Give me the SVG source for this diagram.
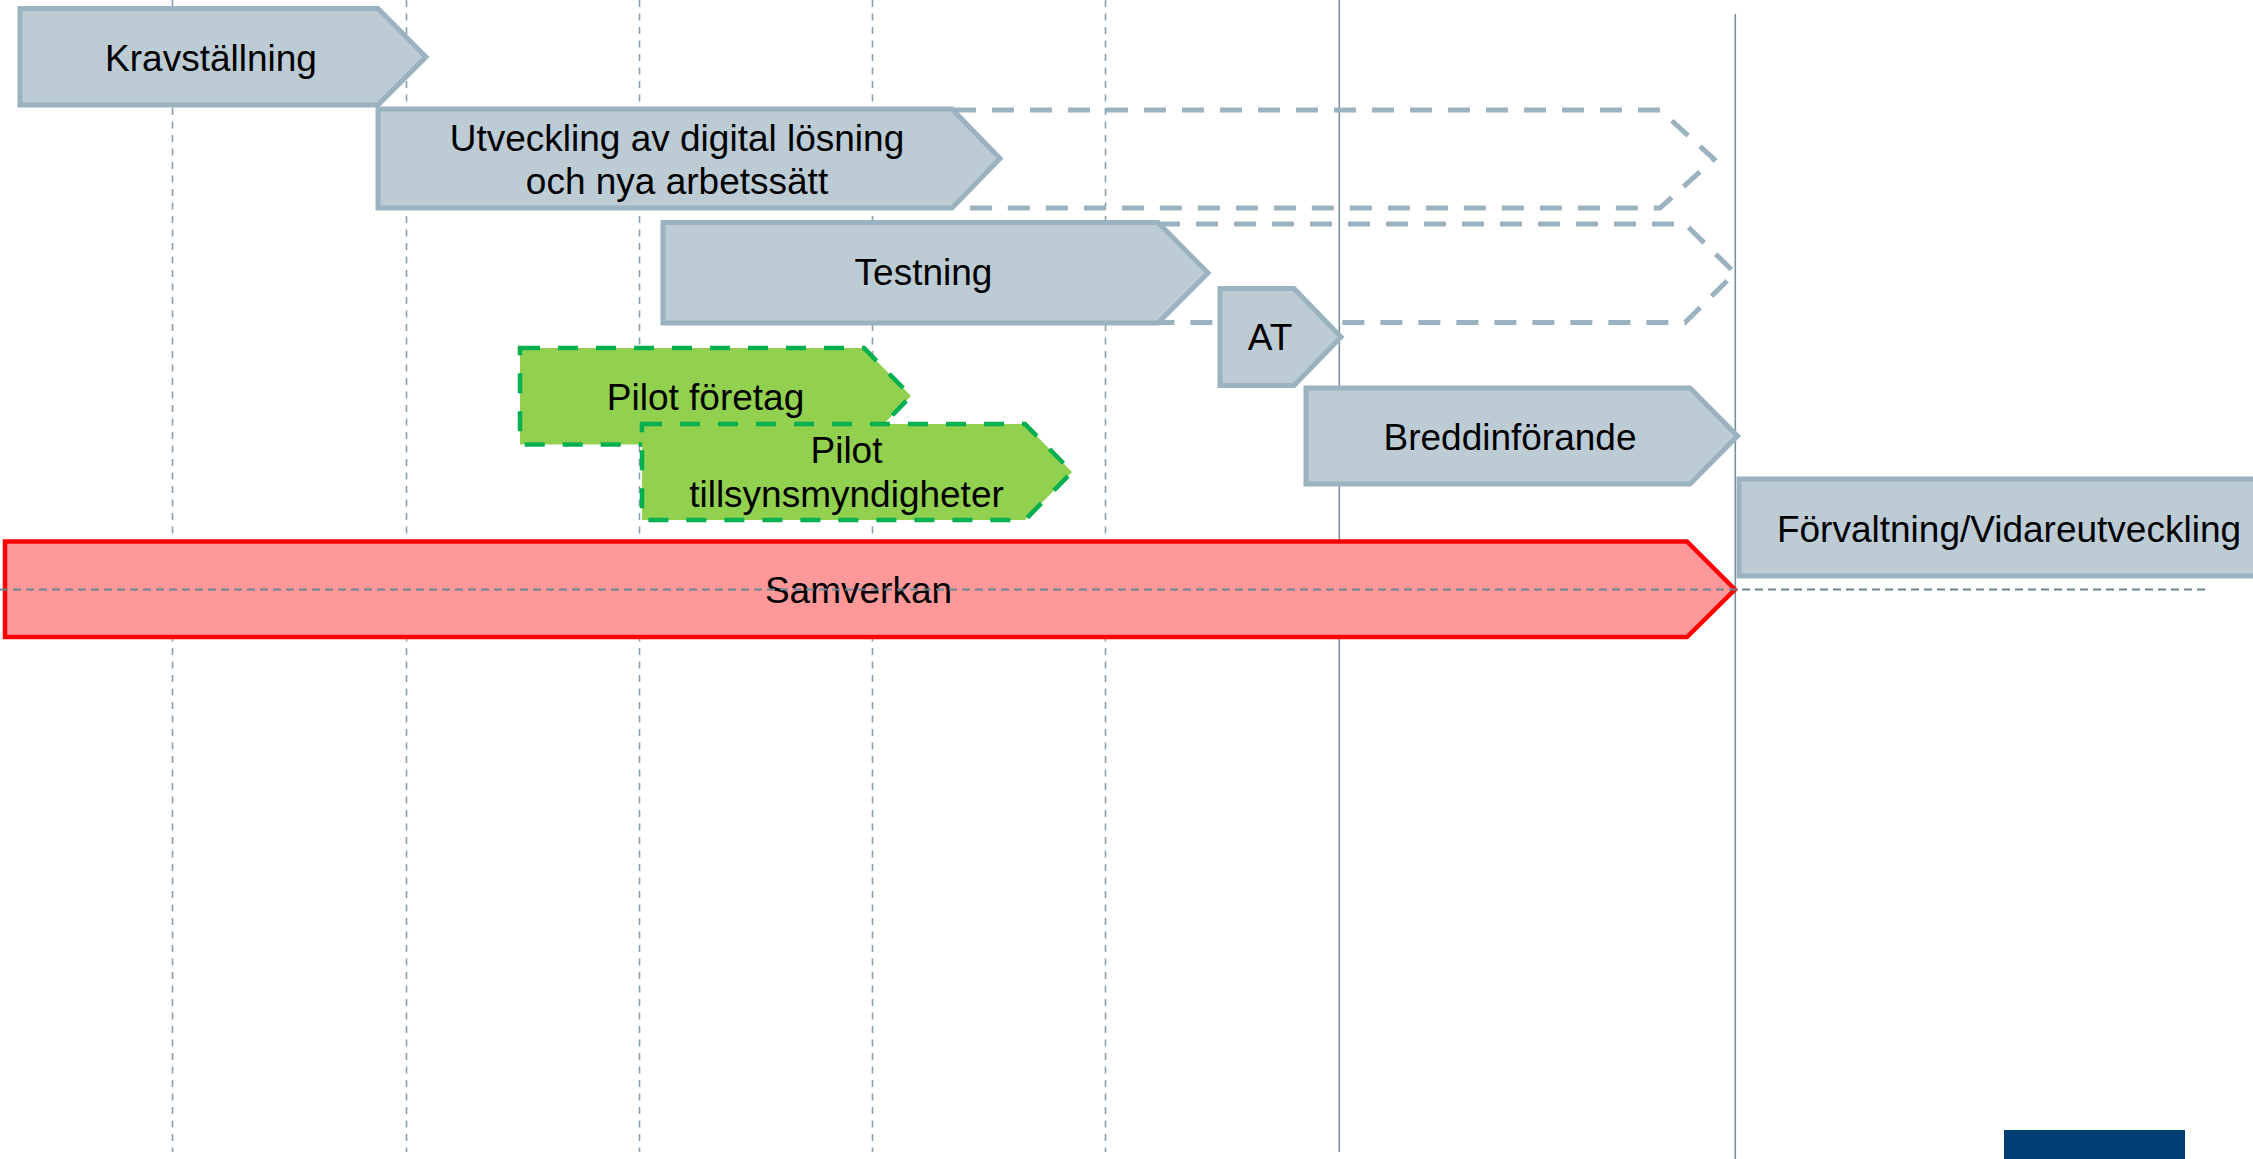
<svg xmlns="http://www.w3.org/2000/svg" width="2253" height="1159" viewBox="0 0 2253 1159">
<style>
.vdash{stroke:#8ba0ae;stroke-width:1.6;stroke-dasharray:7 6.5;fill:none}
.vsolid{stroke:#7890a0;stroke-width:1.6;fill:none}
.hdash{stroke:#6a8494;stroke-width:2;stroke-dasharray:8 5;fill:none}
.ghost{fill:none;stroke:#9bb2c0;stroke-width:5;stroke-dasharray:22 16}
.box{fill:#bccbd4;stroke:#9bb2c0;stroke-width:5;stroke-linejoin:miter}
.green{fill:#92d050;stroke:#00b050;stroke-width:4.5;stroke-dasharray:20 18}
.red{fill:#ff9999;stroke:#ff0000;stroke-width:4.5}
text{font-family:"Liberation Sans",Arial,sans-serif;font-size:37px;fill:#000;text-anchor:middle}
</style>
<rect width="2253" height="1159" fill="#ffffff"/>
<g id="gridlines">
<line class="vdash" x1="172.5" y1="0" x2="172.5" y2="1152"/>
<line class="vdash" x1="406.5" y1="0" x2="406.5" y2="1152"/>
<line class="vdash" x1="639.5" y1="0" x2="639.5" y2="1152"/>
<line class="vdash" x1="872.5" y1="0" x2="872.5" y2="1152"/>
<line class="vdash" x1="1105.5" y1="0" x2="1105.5" y2="1152"/>
<line class="vsolid" x1="1339.3" y1="0" x2="1339.3" y2="1152"/>
<line class="vsolid" x1="1735.3" y1="14" x2="1735.3" y2="1159"/>
</g>
<g id="ghost-utveckling">
<path class="ghost" d="M954,110 L1660,110 L1714,159 L1660,208 L954,208"/>
</g>
<g id="ghost-testning">
<path class="ghost" d="M1158,224 L1685,224 L1735,273 L1685,322.5 L1158,322.5"/>
</g>
<g id="kravstallning">
<path class="box" d="M20,8.5 L378,8.5 L426,57 L378,105 L20,105 Z"/>
<text x="211" y="71">Kravställning</text>
</g>
<g id="utveckling">
<path class="box" d="M378,109 L952,109 L1000,158.5 L952,208 L378,208 Z"/>
<text x="677" y="151">Utveckling av digital lösning</text>
<text x="677" y="194">och nya arbetssätt</text>
</g>
<g id="testning">
<path class="box" d="M663,222.5 L1158,222.5 L1208,273 L1158,323 L663,323 Z"/>
<text x="923.5" y="285">Testning</text>
</g>
<g id="at">
<path class="box" d="M1220,288.5 L1294,288.5 L1341,337 L1294,385.5 L1220,385.5 Z"/>
<text x="1270" y="350">AT</text>
</g>
<g id="pilot-foretag">
<path class="green" d="M520,348 L864,348 L911,396 L864,444.5 L520,444.5 Z"/>
<text x="705.5" y="410">Pilot företag</text>
</g>
<g id="pilot-tillsyn">
<path class="green" d="M642,424 L1025,424 L1072,472 L1025,520 L642,520 Z"/>
<text x="846.5" y="463">Pilot</text>
<text x="846.5" y="507">tillsynsmyndigheter</text>
</g>
<g id="breddinforande">
<path class="box" d="M1306,388 L1690,388 L1737.5,436 L1690,484 L1306,484 Z"/>
<text x="1510" y="450">Breddinförande</text>
</g>
<g id="forvaltning">
<rect class="box" x="1739" y="479" width="530" height="97"/>
<text x="2009" y="541.5">Förvaltning/Vidareutveckling</text>
</g>
<g id="samverkan">
<path class="red" d="M5,541.5 L1687,541.5 L1735,589.5 L1687,637 L5,637 Z"/>
<text x="858.5" y="603">Samverkan</text>
</g>
<g id="baseline">
<line class="hdash" x1="0" y1="589.5" x2="2209" y2="589.5"/>
</g>
<rect id="logo-bar" x="2004" y="1130" width="181" height="29" fill="#003e73"/>
</svg>
